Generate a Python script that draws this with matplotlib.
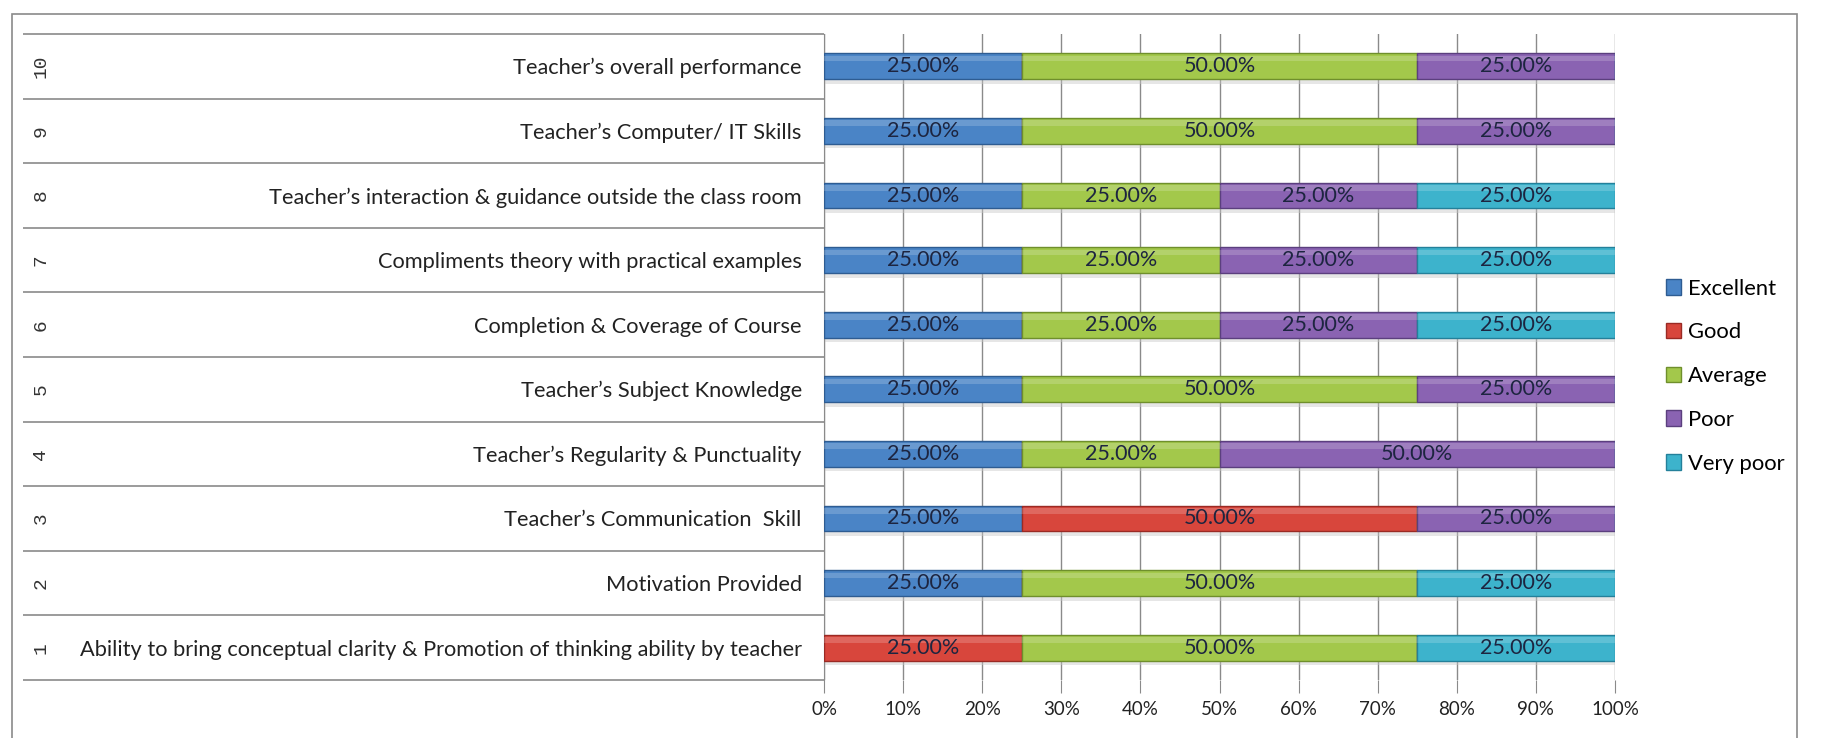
import numpy as np
import matplotlib
matplotlib.use("Agg")
import matplotlib.pyplot as plt
from matplotlib.patches import Rectangle

plt.rcParams['font.family'] = ['Lato', 'DejaVu Sans']

# data (rows 1..10, bottom to top)
questions = [
    "Ability to bring conceptual clarity & Promotion of thinking ability by teacher",
    "Motivation Provided",
    "Teacher\u2019s Communication  Skill",
    "Teacher\u2019s Regularity & Punctuality",
    "Teacher\u2019s Subject Knowledge",
    "Completion & Coverage of Course",
    "Compliments theory with practical examples",
    "Teacher\u2019s interaction & guidance outside the class room",
    "Teacher\u2019s Computer/ IT Skills",
    "Teacher\u2019s overall performance",
]
row_numbers = ["1", "2", "3", "4", "5", "6", "7", "8", "9", "10"]
categories = ["Excellent", "Good", "Average", "Poor", "Very poor"]
excellent = [0, 25, 25, 25, 25, 25, 25, 25, 25, 25]
good      = [25, 0, 50, 0, 0, 0, 0, 0, 0, 0]
average   = [50, 50, 0, 25, 50, 25, 25, 25, 50, 50]
poor      = [0, 0, 25, 50, 25, 25, 25, 25, 25, 25]
very_poor = [25, 25, 0, 0, 0, 25, 25, 25, 0, 0]
x_ticks = [0, 10, 20, 30, 40, 50, 60, 70, 80, 90, 100]

colors = ['#4A84C6', '#D8463C', '#A3C84B', '#8A63B2', '#3DB3CC']
edges = ['#2E5C92', '#9A2A24', '#6F8F2C', '#5B3F7E', '#24809A']

W, H = 1822, 738
fig = plt.figure(figsize=(W / 100, H / 100), dpi=100)
ax = fig.add_axes([824 / W, 1 - 680 / H, 791 / W, 646 / H])

y = np.arange(1, 11)
series = [excellent, good, average, poor, very_poor]
left = np.zeros(10)
bar_h = 0.40
for vals, c, ec, name in zip(series, colors, edges, categories):
    vals = np.array(vals, dtype=float)
    # soft shadow
    ax.barh(y - 0.07, vals, left=left, height=bar_h, color='#c8c8c8',
            alpha=0.45, zorder=2, linewidth=0)
    bars = ax.barh(y, vals, left=left, height=bar_h, color=c, edgecolor=ec,
                   linewidth=1.0, zorder=3, label=name)
    # top highlight
    ax.barh(y + bar_h * 0.30, vals, left=left, height=bar_h * 0.22,
            color='white', alpha=0.18, zorder=4, linewidth=0)
    for yi, v, l in zip(y, vals, left):
        if v > 0:
            ax.text(l + v / 2, yi, f"{v:.2f}%", ha='center', va='center',
                    fontsize=15.5, color='#1d2540', zorder=5)
    left += vals

ax.set_xlim(0, 100)
ax.set_ylim(0.5, 10.5)
ax.set_xticks(x_ticks)
ax.set_xticklabels([f"{t}%" for t in x_ticks], fontsize=13.5, color='#222222')
ax.tick_params(axis='x', length=9, color='#8a8a8a', pad=6)
ax.xaxis.grid(True, color='#8a8a8a', linewidth=1.0, zorder=0)
ax.set_axisbelow(True)

ax.set_yticks(y)
ax.set_yticklabels(questions, fontsize=15.7, color='#222222')
ax.tick_params(axis='y', length=0, pad=16)

for s in ['top', 'right', 'bottom']:
    ax.spines[s].set_visible(False)
ax.spines['left'].set_color('#8a8a8a')

# table lines to the left of the plot
tr = ax.get_yaxis_transform()
x0 = (23 - 824) / 791
ax.hlines(np.arange(0.5, 11.0, 1.0), x0, 0, transform=tr, color='#8a8a8a',
          linewidth=1.2, clip_on=False)
for yi, lab in zip(y, row_numbers):
    ax.text((41 - 824) / 791, yi, lab, transform=tr, rotation=90,
            ha='center', va='center', fontsize=14,
            family='Liberation Mono', color='#333333')

# outer chart border
fig.patches.append(Rectangle((12 / W, -0.01), (1797 - 12) / W, 1 - 14 / H + 0.01,
                             transform=fig.transFigure, fill=False,
                             edgecolor='#8a8a8a', linewidth=1.2))

handles, labels = ax.get_legend_handles_labels()
fig.legend(handles, labels, loc='upper left',
           bbox_to_anchor=(1646 / W, 1 - 259 / H), frameon=False,
           fontsize=15.8, handlelength=0.7, handleheight=0.7,
           handletextpad=0.3, labelspacing=1.08)

fig.savefig("out.png", dpi=100)
